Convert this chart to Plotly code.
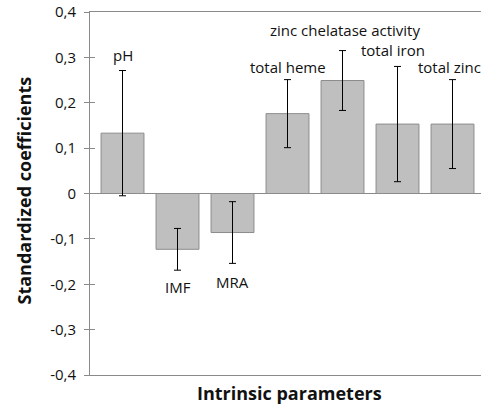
import plotly.graph_objects as go

categories = ["pH", "IMF", "MRA", "total heme", "zinc chelatase activity", "total iron", "total zinc"]
values = [0.133, -0.123, -0.086, 0.176, 0.249, 0.153, 0.153]
errors = [0.138, 0.046, 0.068, 0.075, 0.066, 0.127, 0.098]
tick_vals = [-0.4, -0.3, -0.2, -0.1, 0, 0.1, 0.2, 0.3, 0.4]
tick_text = ["-0,4", "-0,3", "-0,2", "-0,1", "0", "0,1", "0,2", "0,3", "0,4"]

label_shift = [16, -17, -19, 13, 21, 16, 13]
label_xshift = [0, 0, 0, 0, 2, -5, -3]

FONT = "'Open Sans', sans-serif"
AX = "#8a8a8a"

fig = go.Figure()
fig.add_trace(go.Bar(
    x=list(range(len(categories))), y=values,
    marker=dict(color="#bfbfbf", line=dict(color="#8c8c8c", width=1)),
    error_y=dict(type="data", array=errors, color="black", thickness=1, width=3.5),
    width=0.78, showlegend=False,
))

for i, (c, v, e) in enumerate(zip(categories, values, errors)):
    ypos = v + e if label_shift[i] > 0 else v - e
    fig.add_annotation(x=i, y=ypos, text=c, showarrow=False,
                       yshift=label_shift[i], xshift=label_xshift[i],
                       font=dict(family=FONT, size=15, color="#111"))

fig.add_annotation(xref="paper", yref="paper", x=0, y=0.5, xshift=-67, yshift=3,
                   xanchor="center", yanchor="middle", textangle=-90,
                   text="<b>Standardized coefficients</b>", showarrow=False,
                   font=dict(family=FONT, size=18, color="#111"))
fig.add_annotation(xref="paper", yref="paper", x=0.51, y=0, yshift=-18,
                   xanchor="center", yanchor="middle",
                   text="<b>Intrinsic parameters</b>", showarrow=False,
                   font=dict(family=FONT, size=18, color="#111"))

# crossing tick marks: inner halves drawn as a second (overlaid) axis on the same scale
fig.update_layout(
    width=481, height=406,
    margin=dict(l=90, r=0, t=12, b=31, autoexpand=False),
    plot_bgcolor="white", paper_bgcolor="white",
    font=dict(family=FONT, color="#111"),
    bargap=0.22,
    xaxis=dict(range=[-0.591, 6.518], showticklabels=False, ticks="", automargin=False,
               showline=False, showgrid=False, zeroline=False),
    xaxis2=dict(range=[-0.591, 6.518], showticklabels=False, ticks="", automargin=False,
                overlaying="x", side="top", showline=True, linecolor=AX,
                showgrid=False, zeroline=False),
    xaxis3=dict(range=[-0.591, 6.518], showticklabels=False, ticks="", automargin=False,
                overlaying="x", side="bottom", showline=True, linecolor=AX,
                showgrid=False, zeroline=False),
    yaxis=dict(range=[-0.4, 0.4], tickvals=tick_vals, ticktext=tick_text, automargin=False,
               ticks="outside", ticklen=5, tickcolor=AX, showline=True, linecolor=AX,
               ticklabelstandoff=5,
               mirror=False, showgrid=False, zeroline=True, zerolinecolor=AX, zerolinewidth=1,
               tickfont=dict(size=15)),
    yaxis2=dict(range=[-0.4, 0.4], tickvals=tick_vals, overlaying="y", side="left",
                ticks="inside", ticklen=5, tickcolor=AX, showticklabels=False, automargin=False,
                showgrid=False, zeroline=False, showline=False),
)
fig.add_trace(go.Scatter(x=[None], y=[None], xaxis="x2", yaxis="y2", showlegend=False))
fig.add_trace(go.Scatter(x=[None], y=[None], xaxis="x3", showlegend=False))
fig.write_html("out.html", config={"displayModeBar": False},
               post_script="document.body.style.margin='0';document.body.style.overflow='hidden';")
